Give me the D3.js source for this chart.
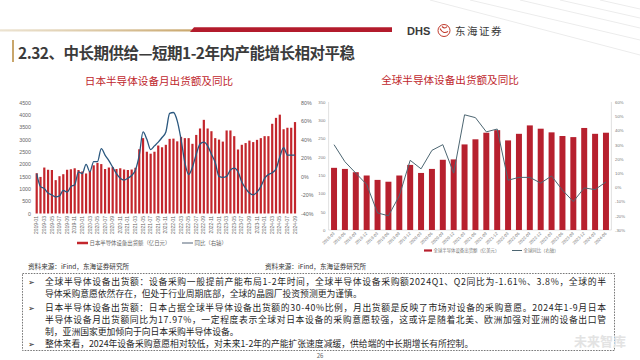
<!DOCTYPE html>
<html><head><meta charset="utf-8">
<script src="https://cdn.jsdelivr.net/npm/d3@7/dist/d3.min.js"></script>
<style>
html,body{margin:0;padding:0;background:#fff;}
svg{display:block;font-family:"Noto Sans CJK SC","Noto Sans",sans-serif;}
</style></head>
<body>
<svg id="c" width="640" height="360"></svg>
<script>
// ---------- DATA ----------
const jpMonths = ["2019-01","2019-02","2019-03","2019-04","2019-05","2019-06","2019-07","2019-08","2019-09","2019-10","2019-11","2019-12",
"2020-01","2020-02","2020-03","2020-04","2020-05","2020-06","2020-07","2020-08","2020-09","2020-10","2020-11","2020-12",
"2021-01","2021-02","2021-03","2021-04","2021-05","2021-06","2021-07","2021-08","2021-09","2021-10","2021-11","2021-12",
"2022-01","2022-02","2022-03","2022-04","2022-05","2022-06","2022-07","2022-08","2022-09","2022-10","2022-11","2022-12",
"2023-01","2023-02","2023-03","2023-04","2023-05","2023-06","2023-07","2023-08","2023-09","2023-10","2023-11","2023-12",
"2024-01","2024-02","2024-03","2024-04","2024-05","2024-06","2024-07","2024-08","2024-09"];
const jpShipments = [1630,1480,1860,1770,1760,1350,1510,1590,1770,1790,1830,1760,
1700,1620,1720,1950,2050,2000,1800,1860,1880,1800,1830,1780,
1760,1780,1850,2600,3050,2500,2420,2500,2750,2680,2780,3020,
3030,2920,3100,3050,3050,2820,3180,3440,3790,3440,3330,3050,
2990,2910,3360,3360,3130,2590,2780,2850,2950,2890,2980,3050,
3130,3130,3630,3870,4000,3410,3470,3470,3700];
const jpYoY = [3,-11,-13,-18,-20,-22,-21,-15,-17,-11,-9,5,
3,13,5,16,16,30,23,17,10,3,-2,-4,
-2,1,7,23,48,40,29,33,37,42,48,68,
69,60,40,15,2,10,24,35,37,33,24,15,
0,-1,0,7,9,5,-6,-13,-18,-20,-17,-11,
-2,2,4,8,21,31,23,23,23];
const jpLeftTicks = [0,500,1000,1500,2000,2500,3000,3500,4000,4500];
const jpRightTicks = [-40,-20,0,20,40,60,80];

const glQuarters = ["2018-03","2018-06","2018-09","2018-12","2019-03","2019-06","2019-09","2019-12",
"2020-03","2020-06","2020-09","2020-12","2021-03","2021-06","2021-09","2021-12",
"2022-03","2022-06","2022-09","2022-12","2023-03","2023-06","2023-09","2023-12","2024-03","2024-06"];
const glShipments = [170,167,158,149,137,132,149,178,156,167,192,193,234,248,266,273,245,263,286,277,267,257,254,279,263,266];
const glYoY = [30,18,10,2,-18,-20,-6,19,13,26,30,10,51,49,39,41,5,7,7,3,8,-2,-10,-0.4,-1.61,3.8];
const glLeftTicks = [0,50,100,150,200,250,300,350];
const glRightTicks = [-30,-20,-10,0,10,20,30,40,50,60];

const titleText = "2.32、中长期供给—短期1-2年内产能增长相对平稳";
const bulletLines = [
 {b:true, t:"全球半导体设备出货额：设备采购一般提前产能布局1-2年时间，全球半导体设备采购额2024Q1、Q2同比为-1.61%、3.8%，全球的半", full:true},
 {b:false,t:"导体采购意愿依然存在，但处于行业周期底部，全球的晶圆厂投资预测更为谨慎。", full:false},
 {b:true, t:"日本半导体设备出货额：日本占据全球半导体设备出货额的30-40%比例，月出货额是反映了市场对设备的采购意愿。2024年1-9月日本", full:true},
 {b:false,t:"半导体设备月出货额同比为17.97%，一定程度表示全球对日本设备的采购意愿较强，这或许是随着北美、欧洲加强对亚洲的设备出口管", full:true},
 {b:false,t:"制，亚洲国家更加倾向于向日本采购半导体设备。", full:false},
 {b:true, t:"整体来看，2024年设备采购意愿相对较低，对未来1-2年的产能扩张速度减缓，供给端的中长期增长有所控制。", full:false}
];

// ---------- DRAW ----------
const svg = d3.select("#c");
const red = "#b7202e";

// decorative background lines (top right)
const deco = svg.append("g").attr("stroke","#ececec").attr("stroke-width",1).attr("fill","none");
[[470,0,640,40],[520,0,640,28],[560,0,640,18],[600,0,640,9],[430,0,640,55]].forEach(l=>{
  deco.append("line").attr("x1",l[0]).attr("y1",l[1]).attr("x2",l[2]).attr("y2",l[3]);
});

// header lines
const hg = svg.append("defs").append("linearGradient").attr("id","tan").attr("x1","0").attr("x2","1");
hg.append("stop").attr("offset","0").attr("stop-color","#d9c7a3").attr("stop-opacity",0.5);
hg.append("stop").attr("offset","1").attr("stop-color","#c9a66b");
svg.append("rect").attr("x",0).attr("y",29.3).attr("width",194).attr("height",2.2).attr("fill","url(#tan)");
svg.append("path").attr("d","M194,27.3 L392,27.3 L392,32 L190,32 Z").attr("fill","#b31b2c");

// logo
svg.append("text").attr("x",407).attr("y",35).attr("font-family","Liberation Sans, Arial, sans-serif")
  .attr("font-weight","bold").attr("font-size",11).attr("fill","#3a3a3a").text("DHS");
const lg = svg.append("g").attr("transform","translate(444,30.5)");
lg.append("circle").attr("r",6).attr("fill","none").attr("stroke","#c0392b").attr("stroke-width",1);
lg.append("path").attr("d","M-4,-2 Q-1,4 4,1 M-2,-4 Q1,-1 3,-4").attr("fill","none").attr("stroke","#c0392b").attr("stroke-width",1.1);
svg.append("text").attr("x",455).attr("y",35).attr("font-size",10.5).attr("fill","#3a3a3a")
  .attr("letter-spacing",1.5).text("东海证券");

// title
svg.append("rect").attr("x",12).attr("y",40).attr("width",2).attr("height",22).attr("fill","#c9a66b");
svg.append("text").attr("x",18).attr("y",58.5).attr("font-size",15.5).attr("font-weight","bold")
  .attr("fill","#3b3b3b").attr("textLength",337).attr("lengthAdjust","spacing").text(titleText);

// ---------- LEFT CHART ----------
const L = {x0:34.8, x1:296.9, yTop:102.3, yBot:213.5};
const xJ = d3.scaleBand().domain(jpMonths).range([L.x0,L.x1]).paddingInner(0.42).paddingOuter(0.21);
const yJL = d3.scaleLinear().domain([0,4500]).range([L.yBot,L.yTop]);
const yJR = d3.scaleLinear().domain([-40,80]).range([L.yBot,L.yTop]);

svg.append("text").attr("x",159).attr("y",84.5).attr("text-anchor","middle").attr("font-size",10.6)
  .attr("fill","#c0272d").text("日本半导体设备月出货额及同比");

const gJ = svg.append("g");
gJ.selectAll("rect.b").data(jpShipments).join("rect").attr("class","b")
  .attr("x",(d,i)=>xJ(jpMonths[i])).attr("width",xJ.bandwidth())
  .attr("y",d=>yJL(d)).attr("height",d=>yJL(0)-yJL(d)).attr("fill","#c3262c");

const axL = d3.axisLeft(yJL).tickValues(jpLeftTicks).tickSize(0).tickPadding(0).tickFormat(d3.format("d"));
const gaL = svg.append("g").attr("transform","translate(31,0)").call(axL);
gaL.select(".domain").remove();
gaL.selectAll("text").attr("font-size",5.3).attr("fill","#666").attr("font-family","Liberation Sans, Arial, sans-serif");

const axR = d3.axisRight(yJR).tickValues(jpRightTicks).tickSize(0).tickPadding(0).tickFormat(d=>d+"%");
const gaR = svg.append("g").attr("transform","translate(301,0)").call(axR);
gaR.select(".domain").remove();
gaR.selectAll("text").attr("font-size",5.3).attr("fill","#666").attr("font-family","Liberation Sans, Arial, sans-serif");

const axB = d3.axisBottom(xJ).tickValues(jpMonths.filter((d,i)=>i%2===0)).tickSize(0).tickPadding(0);
const gaB = svg.append("g").attr("transform","translate(0,216)").call(axB);
gaB.select(".domain").remove();
gaB.selectAll("text").attr("font-size",4.9).attr("fill","#666").attr("font-family","Liberation Sans, Arial, sans-serif")
  .attr("text-anchor","end").attr("dy","0.33em").attr("y",0).attr("x",0).attr("transform","rotate(-90)");

const lineJ = d3.line().x((d,i)=>xJ(jpMonths[i])+xJ.bandwidth()/2).y(d=>yJR(d)).curve(d3.curveMonotoneX);
svg.append("path").datum(jpYoY).attr("d",lineJ).attr("fill","none").attr("stroke","#2b587f").attr("stroke-width",1.3);

// legend left
svg.append("line").attr("x1",77).attr("x2",88).attr("y1",243).attr("y2",243).attr("stroke","#c3262c").attr("stroke-width",2.5);
svg.append("text").attr("x",89.5).attr("y",245).attr("font-size",5.4).attr("fill","#666").text("日本半导体设备出货额（亿日元）");
svg.append("line").attr("x1",182).attr("x2",193).attr("y1",243).attr("y2",243).attr("stroke","#7a8796").attr("stroke-width",1.3);
svg.append("text").attr("x",194.5).attr("y",245).attr("font-size",5.4).attr("fill","#666").text("同比（右轴）");

// ---------- RIGHT CHART ----------
const R = {x0:328.6, x1:611.4, yTop:102, yBot:230};
const xG = d3.scaleBand().domain(glQuarters).range([R.x0,R.x1]).paddingInner(0.45).paddingOuter(0.225);
const yGL = d3.scaleLinear().domain([0,350]).range([R.yBot,R.yTop]);
const yGR = d3.scaleLinear().domain([-30,60]).range([R.yBot,R.yTop]);

svg.append("text").attr("x",450).attr("y",83.5).attr("text-anchor","middle").attr("font-size",10.6)
  .attr("fill","#c0272d").text("全球半导体设备出货额及同比");

// axis lines
svg.append("line").attr("x1",R.x0).attr("x2",R.x0).attr("y1",R.yTop).attr("y2",R.yBot).attr("stroke","#d9d9d9").attr("stroke-width",0.8);
svg.append("line").attr("x1",R.x1).attr("x2",R.x1).attr("y1",R.yTop).attr("y2",R.yBot).attr("stroke","#d9d9d9").attr("stroke-width",0.8);
svg.append("line").attr("x1",R.x0).attr("x2",R.x1).attr("y1",R.yBot).attr("y2",R.yBot).attr("stroke","#d9d9d9").attr("stroke-width",0.8);

svg.append("g").selectAll("rect").data(glShipments).join("rect")
  .attr("x",(d,i)=>xG(glQuarters[i])).attr("width",xG.bandwidth())
  .attr("y",d=>yGL(d)).attr("height",d=>yGL(0)-yGL(d)).attr("fill",red);

const gaGL = svg.append("g").attr("transform","translate(325.5,0)").call(d3.axisLeft(yGL).tickValues(glLeftTicks).tickSize(0).tickPadding(0));
gaGL.select(".domain").remove();
gaGL.selectAll("text").attr("font-size",4.3).attr("fill","#777").attr("font-family","Liberation Sans, Arial, sans-serif");

const gaGR = svg.append("g").attr("transform","translate(615,0)").call(d3.axisRight(yGR).tickValues(glRightTicks).tickSize(0).tickPadding(0).tickFormat(d=>d+"%"));
gaGR.select(".domain").remove();
gaGR.selectAll("text").attr("font-size",4.3).attr("fill","#777").attr("font-family","Liberation Sans, Arial, sans-serif");

const gaGB = svg.append("g").attr("transform","translate(0,233)").call(d3.axisBottom(xG).tickSize(0).tickPadding(0));
gaGB.select(".domain").remove();
gaGB.selectAll("text").attr("font-size",4.2).attr("fill","#777").attr("font-family","Liberation Sans, Arial, sans-serif")
  .attr("text-anchor","end").attr("y",0).attr("x",0).attr("dy","0.3em").attr("transform","rotate(-45)");

const lineG = d3.line().x((d,i)=>xG(glQuarters[i])+xG.bandwidth()/2).y(d=>yGR(d));
svg.append("path").datum(glYoY).attr("d",lineG).attr("fill","none").attr("stroke","#4d6672").attr("stroke-width",1);

// legend right
svg.append("line").attr("x1",424).attr("x2",432).attr("y1",250.5).attr("y2",250.5).attr("stroke",red).attr("stroke-width",2.2);
svg.append("text").attr("x",433.5).attr("y",252).attr("font-size",4.4).attr("fill","#777").text("全球半导体设备出货额（亿美元）");
svg.append("line").attr("x1",512).attr("x2",522).attr("y1",250.5).attr("y2",250.5).attr("stroke","#4d6672").attr("stroke-width",1);
svg.append("text").attr("x",523.5).attr("y",252).attr("font-size",4.4).attr("fill","#777").text("全球同比（右轴）");

// sources
svg.append("text").attr("x",28).attr("y",269).attr("font-size",6.6).attr("fill","#333").text("资料来源：iFind，东海证券研究所");
svg.append("text").attr("x",265).attr("y",269).attr("font-size",6.6).attr("fill","#333").text("资料来源：iFind，东海证券研究所");

// dashed box
svg.append("rect").attr("x",22.5).attr("y",273.5).attr("width",592).attr("height",77)
  .attr("fill","none").attr("stroke","#555").attr("stroke-width",0.8).attr("stroke-dasharray","1.6,1.2");

const lineY = [285,297.2,310.6,322.6,334.6,347];
bulletLines.forEach((l,i)=>{
  if(l.b){
    svg.append("text").attr("x",28).attr("y",lineY[i]).attr("font-size",8).attr("fill","#222")
      .attr("font-family","DejaVu Sans, sans-serif").text("➢");
  }
  const t = svg.append("text").attr("x",45).attr("y",lineY[i]).attr("font-size",8.8).attr("fill","#1f1f1f").text(l.t);
  if(l.full) t.attr("textLength",561).attr("lengthAdjust","spacing");
});

// page number & watermark
svg.append("text").attr("x",320).attr("y",358).attr("text-anchor","middle").attr("font-size",6).attr("fill","#666").text("26");
svg.append("text").attr("x",574).attr("y",346).attr("font-size",13).attr("fill","#e3e3e3").attr("font-weight","bold").text("未来智库");
</script>
</body></html>
